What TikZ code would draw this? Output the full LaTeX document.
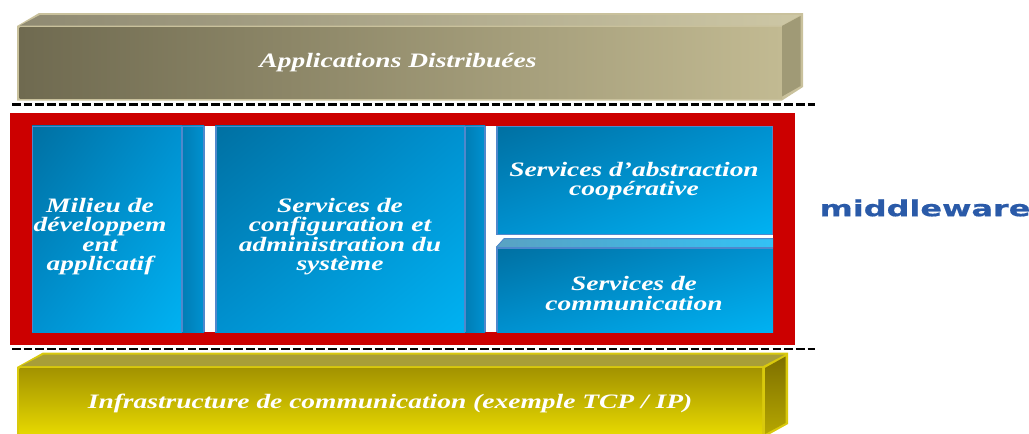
\documentclass[tikz,border=0pt]{standalone}
\usepackage{fontspec}
\usetikzlibrary{shadings}
\newfontfamily\labelfont[BoldItalicFont={Liberation Serif Bold Italic},BoldItalicFeatures={FakeStretch=1.34}]{Liberation Serif}
\newfontfamily\mwfont[BoldFont={DejaVu Sans Bold},BoldFeatures={FakeStretch=1.45,FakeBold=0.6}]{DejaVu Sans}
\definecolor{tanedge}{HTML}{C9C19C}
\definecolor{tanA}{HTML}{6F6A50}
\definecolor{tanB}{HTML}{C2BA92}
\definecolor{tanTopA}{HTML}{8F8A72}
\definecolor{tanTopB}{HTML}{CDC7A5}
\definecolor{tanSide}{HTML}{A09A76}
\definecolor{bluedge}{HTML}{4F88CC}
\definecolor{yeledge}{HTML}{D9C90C}
\definecolor{yelA}{HTML}{A39300}
\definecolor{yelB}{HTML}{E6D800}
\definecolor{yelTop}{HTML}{A89E38}
\definecolor{yelSideA}{HTML}{7E7000}
\definecolor{yelSideB}{HTML}{B5A600}
\definecolor{blueA}{HTML}{0070A2}
\definecolor{blueB}{HTML}{0091D0}
\definecolor{blueC}{HTML}{00B2F2}
\definecolor{redframe}{HTML}{CC0000}
\definecolor{mwblue}{HTML}{2A5AA8}
\tikzset{
  x=1pt,y=-1pt,
  lab/.style={text=white,align=center,inner sep=0pt,font=\labelfont\bfseries\itshape\fontsize{20.5}{19.5}\selectfont},
  bluefront/.style={upper left=blueA,upper right=blueB,lower left=blueB,lower right=blueC},
  blueside/.style={left color=blueA!60!blueB,right color=blueB},
  blueline/.style={draw=bluedge,line width=1.6pt},
  sepline/.style={line width=2.4pt,dash pattern=on 8.6pt off 3.1pt,black},
}
\begin{document}
\begin{tikzpicture}
\useasboundingbox (0,0) rectangle (1029,434);
% upper block
\fill[tanedge] (17,100.5)--(17,26)--(39,13)--(803,13)--(803,87)--(782,100.5)--cycle;
\shade[left color=tanTopA,right color=tanTopB] (20,25.5)--(40,15)--(800,15)--(782,25.5)--cycle;
\shade[left color=tanA,right color=tanB] (19.5,27.5) rectangle (782,98);
\fill[tanSide] (782,26)--(800.5,16)--(800.5,86)--(782,96.5)--cycle;
\node[lab] (apps) at (398,63) {Applications Distribuées};
% separators
\coordinate (s1a) at (12,104.5); \coordinate (s1b) at (815,104.5);
\coordinate (s2a) at (12,349); \coordinate (s2b) at (815,349);
\draw[sepline] (s1a) -- (s1b);
\draw[sepline] (s2a) -- (s2b);
% red frame
\fill[redframe] (10,113) rectangle (795,345);
\fill[white] (32,125.5) rectangle (773,332);
% box 1
\shade[bluefront] (32,125.5) rectangle (182,332);
\shade[blueside] (182,125.5) rectangle (204,332);
\draw[blueline] (32.6,125.5)--(32.6,332);
\draw[blueline] (182,125.5)--(182,332);
\draw[blueline] (204,125.5)--(204,332);
\draw[blueline,line width=.8pt] (32,126)--(204,126);
\node[lab] (milieu) at (100,236.5) {Milieu de\\développem\\ent\\applicatif};
% box 2
\shade[bluefront] (215,125.5) rectangle (465,332);
\shade[blueside] (465,125.5) rectangle (485,332);
\draw[blueline] (216,125.5)--(216,332);
\draw[blueline] (465,125.5)--(465,332);
\draw[blueline] (484.7,125.5)--(484.7,332);
\draw[blueline,line width=.8pt] (215,126)--(485,126);
\node[lab] (config) at (340,236.5) {Services de\\configuration et\\administration du\\système};
% box 3
\shade[bluefront] (497,126.5) rectangle (772.5,234.5);
\draw[blueline] (497,126.3) rectangle (772.5,234.5);
\node[lab] (abstr) at (634,181) {Services d’abstraction\\coopérative};
% box 4
\shade[left color=blueA!65!white,right color=blueC!80!white] (496,247)--(504,238.5)--(773,238.5)--(773,248)--cycle;
\shade[bluefront] (497,248) rectangle (773,332);
\draw[blueline] (497,332)--(497,248)--(773,248);
\draw[blueline,line width=.8pt] (496.5,247)--(504,238.6)--(773,238.6);
\node[lab] (comm) at (634,293.5) {Services de\\communication};
% lower block
\fill[yeledge] (17,434)--(17,367)--(43,352.5)--(788,352.5)--(788,424)--(770,434)--cycle;
\shade[left color=yelTop,right color=yelTop] (21,366)--(44,354.5)--(785,354.5)--(763,366)--cycle;
\shade[top color=yelA,bottom color=yelB] (19.5,368.5) rectangle (762,434);
\shade[top color=yelSideA,bottom color=yelSideB] (765,368)--(785.5,356.5)--(785.5,423)--(765,434)--cycle;
\node[lab] (infra) at (390,403) {Infrastructure de communication (exemple TCP / IP)};
% side label
\node[text=mwblue,inner sep=0pt,font=\mwfont\bfseries\fontsize{22}{22}\selectfont] (mw) at (925,208) {middleware};
\end{tikzpicture}
\end{document}
